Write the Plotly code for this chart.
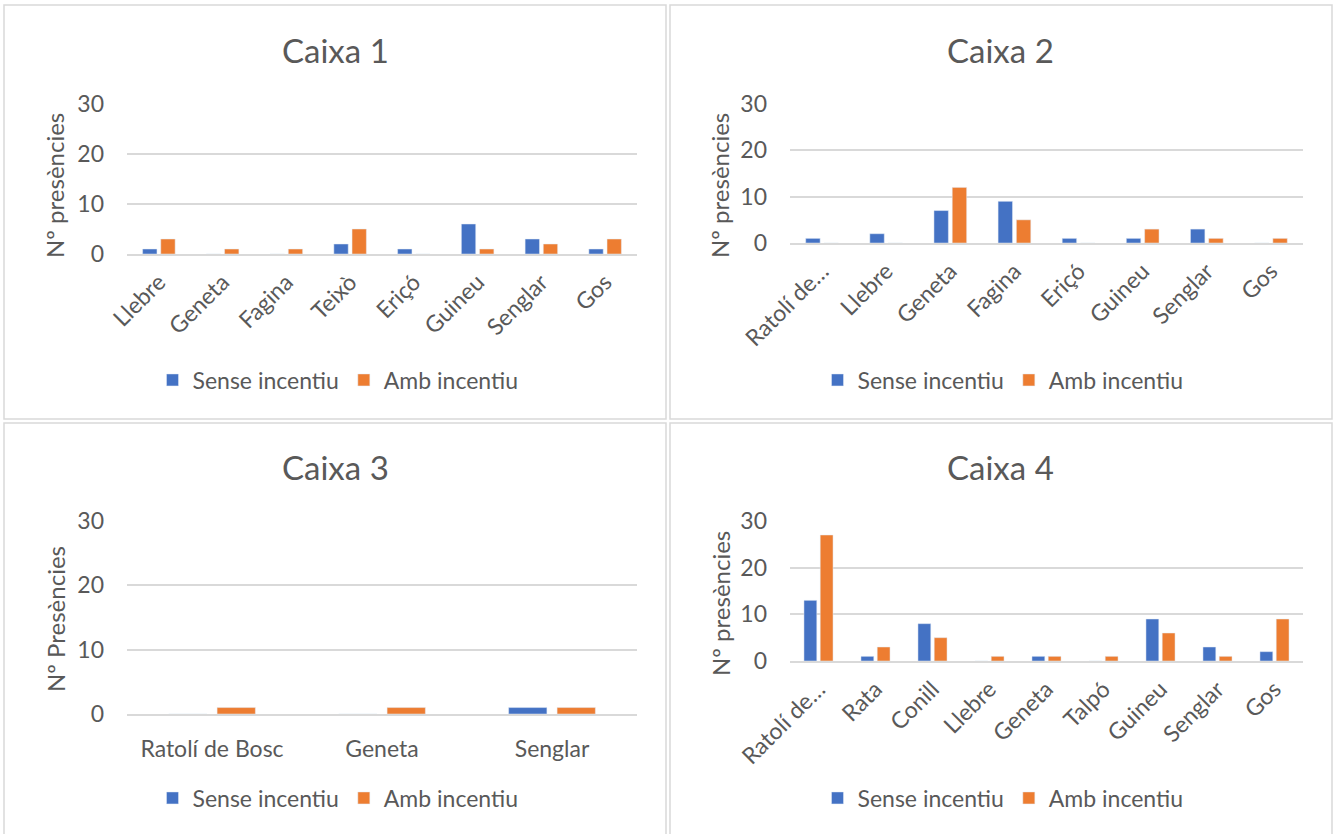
import plotly.graph_objects as go

# ---- data -------------------------------------------------------------
caixa1_cats = ["Llebre", "Geneta", "Fagina", "Teixò", "Eriçó", "Guineu", "Senglar", "Gos"]
caixa1_sense = [1, 0, 0, 2, 1, 6, 3, 1]
caixa1_amb = [3, 1, 1, 5, 0, 1, 2, 3]

caixa2_cats = ["Ratolí de…", "Llebre", "Geneta", "Fagina", "Eriçó", "Guineu", "Senglar", "Gos"]
caixa2_sense = [1, 2, 7, 9, 1, 1, 3, 0]
caixa2_amb = [0, 0, 12, 5, 0, 3, 1, 1]

caixa3_cats = ["Ratolí de Bosc", "Geneta", "Senglar"]
caixa3_sense = [0, 0, 1]
caixa3_amb = [1, 1, 1]

caixa4_cats = ["Ratolí de…", "Rata", "Conill", "Llebre", "Geneta", "Talpó", "Guineu", "Senglar", "Gos"]
caixa4_sense = [13, 1, 8, 0, 1, 0, 9, 3, 2]
caixa4_amb = [27, 3, 5, 1, 1, 1, 6, 1, 9]

y_ticks = [0, 10, 20, 30]

# ---- styling ----------------------------------------------------------
W, H = 1336, 834
FONT = "Lato"
TXT = "#595959"
GRID = "#d9d9d9"
BLUE = "#4472C4"
ORANGE = "#ED7D31"
TICK_SIZE = 23


def px_x(v):
    return v / W


def px_y(v):
    return 1 - v / H


panels = [
    dict(title="Caixa 1", cats=caixa1_cats, s=caixa1_sense, a=caixa1_amb,
         ytitle="Nº presències", plot=(127, 637, 104, 254), box=(4, 666, 5, 419),
         title_xy=(335, 50), ytitle_xy=(55, 186), legend_xy=(338, 380), angle=-45, xpad=4),
    dict(title="Caixa 2", cats=caixa2_cats, s=caixa2_sense, a=caixa2_amb,
         ytitle="Nº presències", plot=(790, 1303, 104, 243), box=(670, 1332, 5, 419),
         title_xy=(1000, 50), ytitle_xy=(720, 186), legend_xy=(1003, 380), angle=-45, xpad=4),
    dict(title="Caixa 3", cats=caixa3_cats, s=caixa3_sense, a=caixa3_amb,
         ytitle="Nº Presències", plot=(127, 637, 521, 714), box=(4, 666, 423, 840),
         title_xy=(335, 467), ytitle_xy=(55, 619), legend_xy=(338, 798), angle=0, xpad=14),
    dict(title="Caixa 4", cats=caixa4_cats, s=caixa4_sense, a=caixa4_amb,
         ytitle="Nº presències", plot=(790, 1303, 521, 661), box=(670, 1332, 423, 840),
         title_xy=(1000, 467), ytitle_xy=(720, 604), legend_xy=(1003, 798), angle=-45, xpad=4),
]

fig = go.Figure()
layout = dict(
    width=W, height=H,
    margin=dict(l=0, r=0, t=0, b=0, autoexpand=False),
    paper_bgcolor="white", plot_bgcolor="white",
    barmode="group", bargap=0.43, bargroupgap=0.21,
    font=dict(family=FONT, color=TXT, size=TICK_SIZE),
    showlegend=True,
)
shapes = []
annotations = []

for i, p in enumerate(panels, start=1):
    sfx = "" if i == 1 else str(i)
    xa, ya = "x" + sfx, "y" + sfx
    leg = "legend" + sfx
    fig.add_trace(go.Bar(x=p["cats"], y=p["s"], name="Sense incentiu", marker_color=BLUE,
                         xaxis=xa, yaxis=ya, legend=leg))
    fig.add_trace(go.Bar(x=p["cats"], y=p["a"], name="Amb incentiu", marker_color=ORANGE,
                         xaxis=xa, yaxis=ya, legend=leg))

    x0, x1, yt, yb = p["plot"]
    layout["xaxis" + sfx] = dict(
        domain=[px_x(x0), px_x(x1)], anchor=ya, type="category",
        tickangle=p["angle"], showgrid=False, zeroline=False,
        showline=True, linecolor=GRID, linewidth=1.5, ticks="",
        ticklabelstandoff=p["xpad"],
        tickfont=dict(family=FONT, size=TICK_SIZE, color=TXT), fixedrange=True,
        automargin=False,
    )
    layout["yaxis" + sfx] = dict(
        domain=[px_y(yb), px_y(yt)], anchor=xa, range=[0, 30],
        tickvals=y_ticks, showgrid=True, gridcolor=GRID, gridwidth=1.5,
        zeroline=False, showline=False, ticks="", ticklabelstandoff=22,
        tickfont=dict(family=FONT, size=TICK_SIZE, color=TXT), fixedrange=True,
        automargin=False,
    )
    lx, ly = p["legend_xy"]
    layout[leg] = dict(
        x=px_x(lx), y=px_y(ly), xanchor="center", yanchor="middle",
        orientation="h", font=dict(family=FONT, size=TICK_SIZE, color=TXT),
        itemwidth=30, bgcolor="rgba(0,0,0,0)", traceorder="normal",
    )

    bx0, bx1, by0, by1 = p["box"]
    shapes.append(dict(type="rect", xref="paper", yref="paper",
                       x0=px_x(bx0), x1=px_x(bx1), y0=px_y(by1), y1=px_y(by0),
                       line=dict(color=GRID, width=1.5), fillcolor="rgba(0,0,0,0)",
                       layer="below"))

    tx, ty = p["title_xy"]
    annotations.append(dict(text=p["title"], x=px_x(tx), y=px_y(ty), xref="paper", yref="paper",
                            xanchor="center", yanchor="middle", showarrow=False,
                            font=dict(family=FONT, size=33, color=TXT)))
    ax, ay = p["ytitle_xy"]
    annotations.append(dict(text=p["ytitle"], x=px_x(ax), y=px_y(ay), xref="paper", yref="paper",
                            xanchor="center", yanchor="middle", showarrow=False, textangle=-90,
                            font=dict(family=FONT, size=24, color=TXT)))

layout["shapes"] = shapes
layout["annotations"] = annotations
fig.update_layout(**layout)

fig.write_html("out.html")
